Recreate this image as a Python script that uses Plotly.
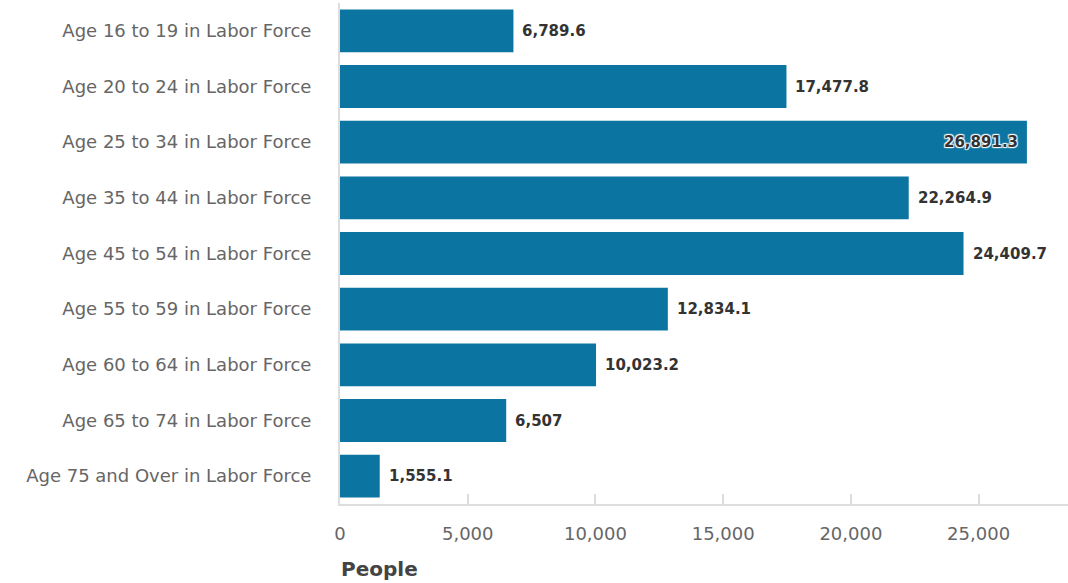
import plotly.graph_objects as go

categories = [
    "Age 16 to 19 in Labor Force",
    "Age 20 to 24 in Labor Force",
    "Age 25 to 34 in Labor Force",
    "Age 35 to 44 in Labor Force",
    "Age 45 to 54 in Labor Force",
    "Age 55 to 59 in Labor Force",
    "Age 60 to 64 in Labor Force",
    "Age 65 to 74 in Labor Force",
    "Age 75 and Over in Labor Force",
]
values = [6789.6, 17477.8, 26891.3, 22264.9, 24409.7, 12834.1, 10023.2, 6507, 1555.1]
value_labels = ["6,789.6", "17,477.8", "26,891.3", "22,264.9", "24,409.7",
                "12,834.1", "10,023.2", "6,507", "1,555.1"]
tick_vals = [0, 5000, 10000, 15000, 20000, 25000]
tick_text = ["0", "5,000", "10,000", "15,000", "20,000", "25,000"]

FONT = "DejaVu Sans"
BAR = "#0b74a0"

fig = go.Figure(go.Bar(
    x=values, y=categories, orientation="h",
    marker=dict(color=BAR, line=dict(width=0)),
    hoverinfo="skip",
))

xmax = 28500
for c, v, t in zip(categories, values, value_labels):
    inside = v > xmax * 0.9
    fig.add_annotation(
        x=v, y=c, xref="x", yref="y", text=f"<b>{t}</b>", showarrow=False,
        xanchor="right" if inside else "left", xshift=-7 if inside else 7,
        font=dict(family=FONT, size=15, color="#333333",
                  shadow="1px 1px 1px #fff, -1px -1px 1px #fff, 1px -1px 1px #fff, -1px 1px 1px #fff" if inside else "none"),
    )

fig.add_annotation(
    x=0, y=-0.13, xref="paper", yref="paper", text="<b>People</b>",
    showarrow=False, xanchor="left", yanchor="middle", xshift=-1,
    font=dict(family=FONT, size=20, color="#444444"),
)

fig.update_layout(
    width=1068, height=583,
    margin=dict(l=340, r=0, t=3, b=79),
    paper_bgcolor="white", plot_bgcolor="white",
    bargap=0.23,
    showlegend=False,
    font=dict(family=FONT),
)
fig.update_xaxes(
    range=[0, xmax], tickvals=tick_vals, ticktext=tick_text,
    showgrid=False, zeroline=False,
    showline=True, linecolor="#dddddd", linewidth=2,
    ticks="inside", ticklen=10, tickcolor="#dddddd", tickwidth=2,
    tickfont=dict(family=FONT, size=18, color="#666666"),
    ticklabelstandoff=12,
)
fig.update_yaxes(
    autorange="reversed", showgrid=False, zeroline=False,
    showline=True, linecolor="#dddddd", linewidth=2,
    ticks="", tickfont=dict(family=FONT, size=18, color="#666666"),
    ticklabelstandoff=23,
)

fig.write_html("out.html", config={"displayModeBar": False},
               post_script="document.body.style.margin='0';")
